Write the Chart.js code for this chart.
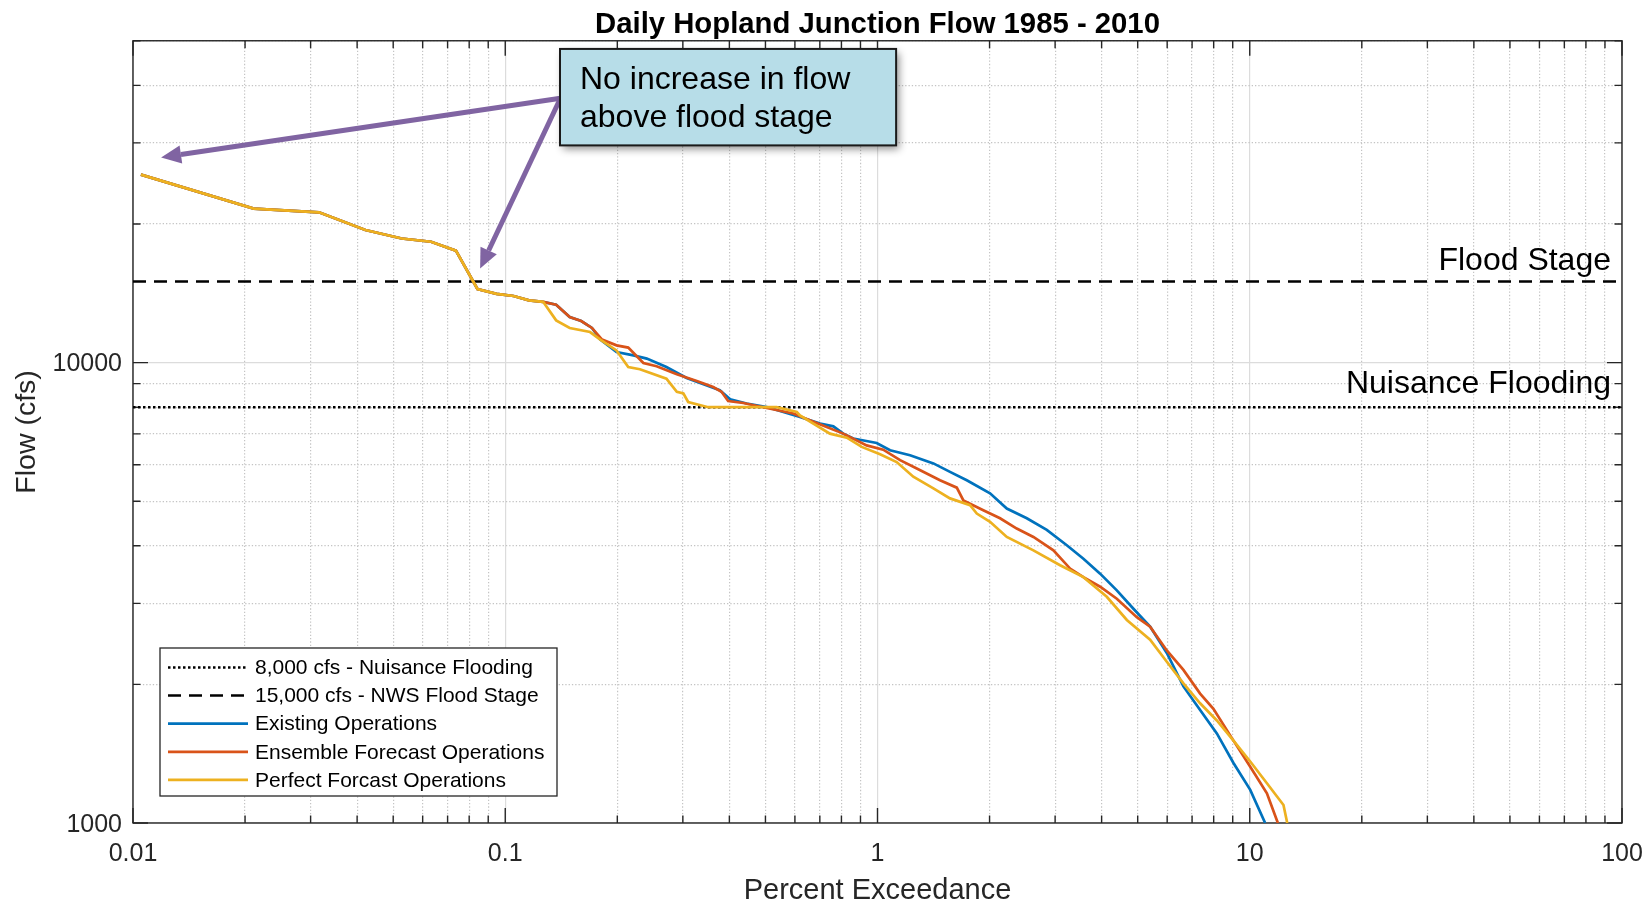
<!DOCTYPE html>
<html>
<head>
<meta charset="utf-8">
<title>Daily Hopland Junction Flow 1985 - 2010</title>
<script src="https://cdn.jsdelivr.net/npm/chart.js@4.4.1/dist/chart.umd.min.js"></script>
<style>
  html, body { margin: 0; padding: 0; background: #fff; }
  #wrap { width: 1646px; height: 904px; position: relative; }
</style>
</head>
<body>
<div id="wrap"><canvas id="flowChart"></canvas></div>
<script>
const FONT = "'Liberation Sans', Arial, Helvetica, sans-serif";
const INK = '#262626';

// flood thresholds (cfs)
const nuisanceFlow = 8000;
const floodFlow = 15000;

// axis ranges and labelled ticks
const xMin = 0.01, xMax = 100;
const yMin = 1000, yMax = 50000;
const xLabelValues = [0.01, 0.1, 1, 10, 100];
const xTickLabels = ['0.01', '0.1', '1', '10', '100'];
const yLabelValues = [1000, 10000];
const yTickLabels = ['1000', '10000'];

// highest days, identical for all three operations
const crestPct  = [0.0105, 0.0211, 0.0316, 0.0421, 0.0527, 0.0632, 0.0737, 0.0842, 0.0948, 0.1053, 0.1158, 0.1264];
const crestFlow = [25600, 21600, 21200, 19400, 18600, 18300, 17500, 14450, 14100, 13950, 13650, 13550];

// Existing Operations
const existingPct  = [0.137, 0.149, 0.160, 0.171, 0.180, 0.199, 0.221, 0.240, 0.271, 0.307, 0.377, 0.402, 0.445, 0.504, 0.619, 0.701, 0.761, 0.809, 0.861, 0.995, 1.081, 1.223, 1.413, 1.566, 1.737, 2.006, 2.225, 2.518, 2.849, 3.225, 3.574, 3.963, 4.394, 4.870, 5.399, 5.986, 6.634, 7.356, 8.158, 9.042, 10.03, 11.00];
const existingFlow = [13360, 12560, 12310, 11890, 11220, 10540, 10370, 10200, 9780, 9260, 8710, 8320, 8150, 8010, 7620, 7370, 7270, 7010, 6840, 6690, 6450, 6290, 6040, 5790, 5550, 5200, 4820, 4590, 4330, 4010, 3750, 3480, 3200, 2920, 2670, 2340, 1980, 1760, 1565, 1350, 1180, 1000];

// Ensemble Forecast Operations
const ensemblePct  = [0.137, 0.149, 0.160, 0.171, 0.182, 0.199, 0.214, 0.235, 0.255, 0.289, 0.327, 0.362, 0.381, 0.397, 0.436, 0.504, 0.594, 0.686, 0.809, 0.935, 1.036, 1.150, 1.275, 1.472, 1.633, 1.701, 1.924, 2.134, 2.366, 2.623, 2.969, 3.291, 3.574, 3.963, 4.394, 4.973, 5.399, 5.986, 6.634, 7.356, 7.987, 9.042, 10.03, 11.12, 11.90];
const ensembleFlow = [13360, 12560, 12310, 11890, 11220, 10900, 10780, 9980, 9820, 9430, 9120, 8850, 8640, 8250, 8170, 7970, 7750, 7390, 7010, 6610, 6470, 6140, 5890, 5550, 5350, 5020, 4780, 4590, 4360, 4180, 3910, 3570, 3420, 3260, 3070, 2800, 2670, 2370, 2150, 1910, 1770, 1510, 1325, 1160, 1000];

// Perfect Forcast Operations
const perfectPct  = [0.137, 0.149, 0.169, 0.180, 0.199, 0.214, 0.230, 0.271, 0.289, 0.301, 0.310, 0.351, 0.536, 0.607, 0.619, 0.745, 0.827, 0.907, 1.016, 1.126, 1.248, 1.413, 1.566, 1.773, 1.848, 2.006, 2.225, 2.623, 3.094, 3.574, 4.130, 4.675, 5.399, 5.986, 6.634, 7.356, 8.158, 9.042, 10.03, 11.12, 12.32, 12.61];
const perfectFlow = [12350, 11890, 11650, 11220, 10630, 9780, 9670, 9230, 8640, 8570, 8210, 8000, 8000, 7810, 7680, 7010, 6870, 6560, 6320, 6080, 5650, 5330, 5070, 4900, 4700, 4510, 4180, 3910, 3630, 3420, 3100, 2760, 2500, 2240, 2010, 1820, 1670, 1510, 1360, 1220, 1094, 1000];

function toPoints(pct, flow) {
    return pct.map((p, i) => ({ x: p, y: flow[i] }));
}

function curve(pct, flow) {
    return toPoints(crestPct.concat(pct), crestFlow.concat(flow));
}

// 1..9 x each decade between lo and hi
function logTicks(lo, hi) {
    const out = [];
    for (let d = lo; d < hi * 1.0001; d *= 10) {
        for (let m = 1; m <= 9; m++) {
            const v = +(m * d).toPrecision(6);
            if (v <= hi * 1.0001) out.push(v);
        }
    }
    return out;
}

function isDecade(v) {
    const l = Math.log10(v);
    return Math.abs(l - Math.round(l)) < 1e-6;
}

function labelFor(v, values, labels) {
    const i = values.findIndex(t => Math.abs(t - v) / t < 1e-6);
    return i >= 0 ? labels[i] : '';
}

const gridColor = ctx => (ctx.tick && ctx.tick.major) ? '#dcdcdc' : '#c4c4c4';
const gridDash = ctx => (ctx.tick && ctx.tick.major) ? [] : [1.3, 2];

// MATLAB style box with inward ticks on all four sides
const axesBox = {
    id: 'axesBox',
    beforeDatasetsDraw(chart) {
        const { ctx, chartArea: a, scales: { x, y } } = chart;
        ctx.save();
        ctx.strokeStyle = INK;
        ctx.lineWidth = 1.4;
        ctx.beginPath();
        x.ticks.forEach(t => {
            const px = x.getPixelForValue(t.value);
            const len = t.major ? 15 : 7.5;
            ctx.moveTo(px, a.bottom); ctx.lineTo(px, a.bottom - len);
            ctx.moveTo(px, a.top); ctx.lineTo(px, a.top + len);
        });
        y.ticks.forEach(t => {
            const py = y.getPixelForValue(t.value);
            const len = t.major ? 15 : 7.5;
            ctx.moveTo(a.left, py); ctx.lineTo(a.left + len, py);
            ctx.moveTo(a.right, py); ctx.lineTo(a.right - len, py);
        });
        ctx.stroke();
        ctx.strokeRect(a.left, a.top, a.right - a.left, a.bottom - a.top);
        ctx.restore();
    }
};

// boxed legend inside the lower left of the axes
const boxLegend = {
    id: 'boxLegend',
    afterDatasetsDraw(chart) {
        const { ctx, chartArea: a } = chart;
        const sets = chart.data.datasets;
        const left = a.left + 27, top = a.bottom - 175, w = 397, h = 148;
        ctx.save();
        ctx.fillStyle = '#fff';
        ctx.fillRect(left, top, w, h);
        ctx.strokeStyle = INK;
        ctx.lineWidth = 1.3;
        ctx.strokeRect(left, top, w, h);
        ctx.font = '21px ' + FONT;
        ctx.textBaseline = 'middle';
        sets.forEach((ds, i) => {
            const ry = top + 19.5 + i * 28.1;
            ctx.strokeStyle = ds.borderColor;
            ctx.lineWidth = ds.borderWidth;
            ctx.setLineDash(ds.borderDash || []);
            ctx.beginPath();
            ctx.moveTo(left + 8, ry);
            ctx.lineTo(left + 88, ry);
            ctx.stroke();
            ctx.setLineDash([]);
            ctx.fillStyle = '#000';
            ctx.fillText(ds.label, left + 95, ry + 1);
        });
        ctx.restore();
    }
};

// threshold labels, callout box and arrows
const callout = {
    id: 'callout',
    afterDraw(chart) {
        const { ctx, chartArea: a, scales: { x, y } } = chart;
        ctx.save();
        ctx.font = '32px ' + FONT;
        ctx.fillStyle = '#000';
        ctx.textAlign = 'right';
        ctx.fillText('Flood Stage', a.right - 11, y.getPixelForValue(floodFlow) - 12);
        ctx.fillText('Nuisance Flooding', a.right - 11, y.getPixelForValue(nuisanceFlow) - 14);

        const tailX = x.getPixelForValue(0.1407), tailY = y.getPixelForValue(37500);
        const tips = [[0.0119, 27900], [0.0856, 16000]];
        ctx.strokeStyle = '#8064a2';
        ctx.fillStyle = '#8064a2';
        tips.forEach(([p, q]) => {
            const tx = x.getPixelForValue(p), ty = y.getPixelForValue(q);
            const ang = Math.atan2(ty - tailY, tx - tailX);
            const bx = tx - 20 * Math.cos(ang), by = ty - 20 * Math.sin(ang);
            ctx.lineWidth = 5;
            ctx.beginPath();
            ctx.moveTo(tailX, tailY);
            ctx.lineTo(bx, by);
            ctx.stroke();
            ctx.beginPath();
            ctx.moveTo(tx, ty);
            ctx.lineTo(bx + 9 * Math.sin(ang), by - 9 * Math.cos(ang));
            ctx.lineTo(bx - 9 * Math.sin(ang), by + 9 * Math.cos(ang));
            ctx.closePath();
            ctx.fill();
        });

        const bx0 = x.getPixelForValue(0.1403), bx1 = x.getPixelForValue(1.122);
        const by0 = y.getPixelForValue(48000), by1 = y.getPixelForValue(29630);
        ctx.shadowColor = 'rgba(0,0,0,0.45)';
        ctx.shadowBlur = 8;
        ctx.shadowOffsetX = 3;
        ctx.shadowOffsetY = 4;
        ctx.fillStyle = '#b7dde8';
        ctx.fillRect(bx0, by0, bx1 - bx0, by1 - by0);
        ctx.shadowColor = 'transparent';
        ctx.strokeStyle = '#1a1a1a';
        ctx.lineWidth = 2;
        ctx.strokeRect(bx0, by0, bx1 - bx0, by1 - by0);
        ctx.fillStyle = '#000';
        ctx.textAlign = 'left';
        ctx.fillText('No increase in flow', bx0 + 20, by0 + 40);
        ctx.fillText('above flood stage', bx0 + 20, by0 + 78);
        ctx.restore();
    }
};

Chart.defaults.font.family = FONT;

new Chart(document.getElementById('flowChart'), {
    type: 'line',
    data: {
        datasets: [
            { label: '8,000 cfs - Nuisance Flooding', data: [{ x: xMin, y: nuisanceFlow }, { x: xMax, y: nuisanceFlow }],
              borderColor: '#000', borderWidth: 2.5, borderDash: [2.5, 2.5], order: 5 },
            { label: '15,000 cfs - NWS Flood Stage', data: [{ x: xMin, y: floodFlow }, { x: xMax, y: floodFlow }],
              borderColor: '#000', borderWidth: 2.5, borderDash: [13, 8], order: 4 },
            { label: 'Existing Operations', data: curve(existingPct, existingFlow),
              borderColor: '#0072bd', borderWidth: 2.7, order: 3 },
            { label: 'Ensemble Forecast Operations', data: curve(ensemblePct, ensembleFlow),
              borderColor: '#d95319', borderWidth: 2.7, order: 2 },
            { label: 'Perfect Forcast Operations', data: curve(perfectPct, perfectFlow),
              borderColor: '#edb120', borderWidth: 2.7, order: 1 }
        ]
    },
    options: {
        responsive: true,
        maintainAspectRatio: false,
        animation: false,
        parsing: false,
        elements: { point: { radius: 0 }, line: { tension: 0, fill: false } },
        layout: { padding: { top: 0, right: 24, bottom: 0, left: 0 } },
        plugins: {
            legend: { display: false },
            tooltip: { enabled: false },
            title: {
                display: true,
                fullSize: false,
                text: 'Daily Hopland Junction Flow 1985 - 2010',
                color: '#000',
                font: { size: 29.3, weight: 'bold', lineHeight: 1.05 },
                padding: { top: 10, bottom: 0 }
            }
        },
        scales: {
            x: {
                type: 'logarithmic',
                min: xMin,
                max: xMax,
                afterBuildTicks: s => { s.ticks = logTicks(xMin, xMax).map(v => ({ value: v, major: isDecade(v) })); },
                afterFit: s => { s.height = 81; s.paddingLeft = 0; s.paddingRight = 0; },
                ticks: {
                    autoSkip: false,
                    maxRotation: 0,
                    padding: 16,
                    color: INK,
                    font: { size: 25 },
                    callback: v => labelFor(v, xLabelValues, xTickLabels)
                },
                grid: { drawTicks: false, color: gridColor, lineWidth: 1.2 },
                border: { display: false, dash: gridDash },
                title: { display: true, text: 'Percent Exceedance', color: INK, font: { size: 29, lineHeight: 0.9 }, padding: { top: 0, bottom: 0 } }
            },
            y: {
                type: 'logarithmic',
                min: yMin,
                max: yMax,
                afterBuildTicks: s => { s.ticks = logTicks(yMin, yMax).map(v => ({ value: v, major: isDecade(v) })); },
                afterFit: s => { s.width = 133; s.paddingTop = 0; s.paddingBottom = 0; },
                ticks: {
                    autoSkip: false,
                    padding: 11,
                    labelOffset: 2,
                    color: INK,
                    font: { size: 25 },
                    callback: v => labelFor(v, yLabelValues, yTickLabels)
                },
                grid: { drawTicks: false, color: gridColor, lineWidth: 1.2 },
                border: { display: false, dash: gridDash },
                title: { display: true, text: 'Flow (cfs)', color: INK, font: { size: 28.5, lineHeight: 1 }, padding: { top: 13, bottom: 0 } }
            }
        }
    },
    plugins: [axesBox, boxLegend, callout]
});
</script>
</body>
</html>
